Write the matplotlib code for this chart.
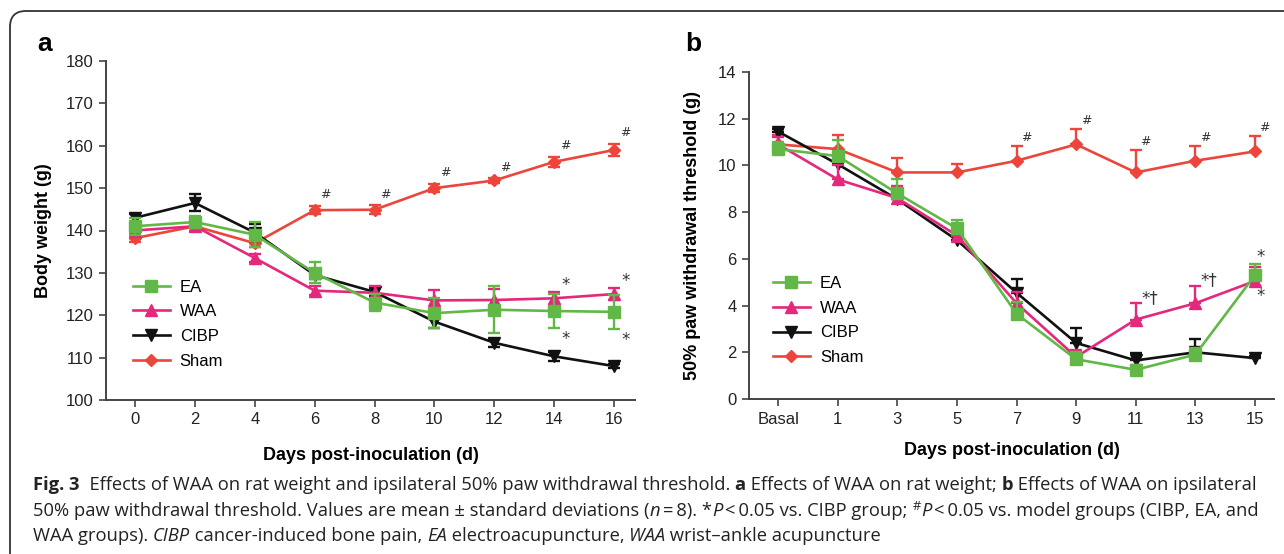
import matplotlib
matplotlib.use("Agg")
import matplotlib.pyplot as plt
from matplotlib import font_manager
from matplotlib.lines import Line2D
from matplotlib.patches import FancyBboxPatch
from matplotlib.transforms import IdentityTransform

# ---- panel a: body weight ----
days_a = [0, 2, 4, 6, 8, 10, 12, 14, 16]
ea_w = [141, 142, 139, 130, 123, 120.5, 121.3, 121, 120.8]
ea_w_sd = [2, 1.5, 3, 2.5, 2, 3.5, 5.5, 4, 4]
waa_w = [140, 141, 133.5, 125.8, 125.3, 123.5, 123.6, 124, 125]
waa_w_sd = [1, 1, 1, 1, 1.5, 2.5, 2.5, 1.5, 1.5]
cibp_w = [143, 146.5, 139.5, 129.5, 125.5, 118.5, 113.5, 110.3, 108]
cibp_w_sd = [1, 2, 2, 1, 1, 1.5, 1, 1, 0.5]
sham_w = [138.2, 141, 137, 144.8, 144.9, 150, 151.8, 156.2, 159]
sham_w_sd = [1, 1, 1, 1, 1, 1, 0.5, 1.2, 1.5]

# ---- panel b: 50% paw withdrawal threshold ----
days_b = ["Basal", "1", "3", "5", "7", "9", "11", "13", "15"]
ea_t = [10.7, 10.4, 8.8, 7.3, 3.65, 1.7, 1.25, 1.9, 5.3]
ea_t_sd = [0.3, 0.7, 0.6, 0.35, 0.5, 0.3, 0.2, 0.3, 0.5]
waa_t = [10.9, 9.4, 8.6, 7.0, 4.1, 1.8, 3.4, 4.1, 5.05]
waa_t_sd = [0.3, 0.6, 0.5, 0.4, 0.5, 0.3, 0.7, 0.75, 0.6]
cibp_t = [11.45, 10.05, 8.55, 6.8, 4.55, 2.4, 1.65, 2.0, 1.75]
cibp_t_sd = [0.1, 0.3, 0.3, 0.2, 0.6, 0.65, 0.3, 0.55, 0.1]
sham_t = [10.9, 10.7, 9.7, 9.7, 10.2, 10.9, 9.7, 10.2, 10.6]
sham_t_sd = [0.4, 0.6, 0.6, 0.35, 0.65, 0.65, 0.95, 0.65, 0.65]

GREEN = "#62B847"
PINK = "#E4287C"
BLACK = "#111111"
RED = "#EC453B"
SPINE = "#444444"

groups = ["EA", "WAA", "CIBP", "Sham"]
colors = [GREEN, PINK, BLACK, RED]
markers = ["s", "^", "v", "D"]
msizes = [9, 8.5, 8.5, 6.5]

fig = plt.figure(figsize=(12.84, 5.54), dpi=100)
W, H = 1284, 554


def px_axes(l, r, top, bot):
    return fig.add_axes([l / W, (H - bot) / H, (r - l) / W, (bot - top) / H])


ax_a = px_axes(106, 635, 61, 400)
ax_b = px_axes(749, 1274, 72, 399)


def style_axes(ax):
    for s in ["top", "right"]:
        ax.spines[s].set_visible(False)
    for s in ["left", "bottom"]:
        ax.spines[s].set_color(SPINE)
        ax.spines[s].set_linewidth(1.4)
    ax.tick_params(direction="out", length=5, width=1.2, color=SPINE,
                   labelsize=12, labelcolor="#222222", pad=4)
    for lab in ax.get_xticklabels() + ax.get_yticklabels():
        lab.set_fontfamily("Liberation Sans")


def draw(ax, x, series, one_sided):
    # EA ends on top, like the figure
    for i in [3, 2, 1, 0]:
        y, sd = series[i]
        yerr = [[0] * len(sd), sd] if one_sided else sd
        ax.errorbar(x, y, yerr=yerr, color=colors[i], marker=markers[i],
                    ms=msizes[i], mfc=colors[i], mec=colors[i], lw=1.9,
                    elinewidth=1.7, capsize=4.5, capthick=1.7, zorder=3 + (3 - i))


# panel a
draw(ax_a, days_a, [(ea_w, ea_w_sd), (waa_w, waa_w_sd), (cibp_w, cibp_w_sd),
                    (sham_w, sham_w_sd)], one_sided=False)
ax_a.set_xlim(-0.97, 16.7)
ax_a.set_ylim(100, 180)
ax_a.set_xticks(days_a)
ax_a.set_yticks(range(100, 181, 10))
style_axes(ax_a)
ax_a.set_ylabel("Body weight (g)", fontsize=13, fontweight="bold",
                fontfamily="Liberation Sans", labelpad=10)
ax_a.set_xlabel("Days post-inoculation (d)", fontsize=13, fontweight="bold",
                fontfamily="Liberation Sans", labelpad=14)

# panel b
xb = list(range(len(days_b)))
draw(ax_b, xb, [(ea_t, ea_t_sd), (waa_t, waa_t_sd), (cibp_t, cibp_t_sd),
                (sham_t, sham_t_sd)], one_sided=True)
ax_b.set_xlim(-0.49, 8.32)
ax_b.set_ylim(0, 14)
ax_b.set_xticks(xb)
ax_b.set_xticklabels(days_b)
ax_b.set_yticks(range(0, 15, 2))
style_axes(ax_b)
ax_b.set_ylabel("50% paw withdrawal threshold (g)", fontsize=13, fontweight="bold",
                fontfamily="Liberation Sans", labelpad=12)
ax_b.set_xlabel("Days post-inoculation (d)", fontsize=13, fontweight="bold",
                fontfamily="Liberation Sans", labelpad=11)

# legends
handles = [Line2D([], [], color=c, marker=m, ms=s, lw=1.9)
           for c, m, s in zip(colors, markers, msizes)]
for ax, anchor in [(ax_a, (0.051, 0.224)), (ax_b, (0.046, 0.24))]:
    ax.legend(handles, groups, loc="center left", bbox_to_anchor=anchor,
              frameon=False, borderpad=0, borderaxespad=0, handlelength=2.2,
              handletextpad=0.6, labelspacing=0.58,
              prop={"family": "Liberation Sans", "size": 12})

# significance marks
mark_kw = dict(textcoords="offset points", ha="center", va="center",
               color="#333333", fontfamily="DejaVu Sans")
for i in range(3, 9):
    ax_a.annotate("#", (days_a[i], sham_w[i] + sham_w_sd[i]), xytext=(8, 8),
                  fontsize=9, **mark_kw)
for i in [7, 8]:
    ax_a.annotate("*", (days_a[i], waa_w[i] + waa_w_sd[i]), xytext=(8, 5),
                  fontsize=12, **mark_kw)
    ax_a.annotate("*", (days_a[i], ea_w[i] - ea_w_sd[i]), xytext=(8, -8),
                  fontsize=12, **mark_kw)

for i in [4, 5, 6, 7, 8]:
    ax_b.annotate("#", (xb[i], sham_t[i] + sham_t_sd[i]), xytext=(7, 6),
                  fontsize=9, **mark_kw)
for i in [6, 7]:
    ax_b.annotate("*\u2020", (xb[i], waa_t[i] + waa_t_sd[i]), xytext=(10, 4),
                  fontsize=12, **mark_kw)
ax_b.annotate("*", (xb[8], ea_t[8] + ea_t_sd[8]), xytext=(4, 5), fontsize=12, **mark_kw)
ax_b.annotate("*", (xb[8], ea_t[8]), xytext=(4, -15), fontsize=12, **mark_kw)

# panel letters
fig.text(45 / W, (H - 44) / H, "a", fontsize=19, fontweight="bold",
         fontfamily="Liberation Sans", ha="center", va="center")
fig.text(693 / W, (H - 44) / H, "b", fontsize=19, fontweight="bold",
         fontfamily="Liberation Sans", ha="center", va="center")

# rounded frame (only top and left edges are visible)
fig.patches.append(FancyBboxPatch((10, -60), 1400, 603, transform=IdentityTransform(),
                                  boxstyle="round,pad=0,rounding_size=16",
                                  fc="none", ec="#333333", lw=1.3, figure=fig))

# caption, laid out run by run
try:
    font_manager.findfont("Liberation Sans Narrow", fallback_to_default=False)
    CAP_FONT = "Liberation Sans Narrow"
except Exception:
    CAP_FONT = "Open Sans"
renderer = fig.canvas.get_renderer()

line1 = [("Fig. 3", "bold"),
         ("  Effects of WAA on rat weight and ipsilateral 50% paw withdrawal threshold. ", "normal"),
         ("a", "bold"), (" Effects of WAA on rat weight; ", "normal"),
         ("b", "bold"), (" Effects of WAA on ipsilateral", "normal")]
line2 = [("50% paw withdrawal threshold. Values are mean \u00b1 standard deviations (", "normal"),
         ("n", "italic"), ("\u2009=\u20098). *", "normal"), ("P", "italic"),
         ("\u2009<\u20090.05 vs. CIBP group; ", "normal"), ("#", "sup"), ("P", "italic"),
         ("\u2009<\u20090.05 vs. model groups (CIBP, EA, and", "normal")]
line3 = [("WAA groups). ", "normal"), ("CIBP", "italic"),
         (" cancer-induced bone pain, ", "normal"), ("EA", "italic"),
         (" electroacupuncture, ", "normal"), ("WAA", "italic"),
         (" wrist\u2013ankle acupuncture", "normal")]


def put_runs(runs, x, y, size, measure=False):
    made = []
    for txt, kind in runs:
        kw = dict(fontfamily=CAP_FONT, fontsize=size, color="#222222",
                  va="baseline", ha="left", transform=IdentityTransform())
        yy = y
        if kind == "bold":
            kw["fontweight"] = "bold"
        elif kind == "italic":
            kw["fontstyle"] = "italic"
        elif kind == "sup":
            kw["fontsize"] = size * 0.7
            yy = y + 6
        t = fig.text(x, yy, txt, **kw)
        x += t.get_window_extent(renderer).width
        made.append(t)
    if measure:
        for t in made:
            t.remove()
    return x


x0, x1 = 33, 1258
size0 = 12
end = put_runs(line1, x0, 0, size0, measure=True)
cap_size = size0 * (x1 - x0) / (end - x0)
for runs, ybase in [(line1, H - 490), (line2, H - 516), (line3, H - 541)]:
    put_runs(runs, x0, ybase, cap_size)

fig.savefig("out.png", dpi=100)
